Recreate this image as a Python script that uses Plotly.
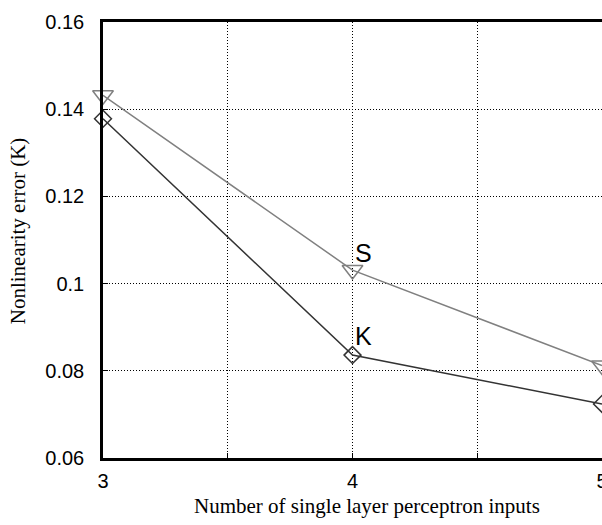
import plotly.graph_objects as go

x_inputs = [3, 4, 5]
s_error = [0.1432, 0.1031, 0.0812]
k_error = [0.1378, 0.0836, 0.0724]
y_ticks = [0.06, 0.08, 0.10, 0.12, 0.14, 0.16]
y_tick_text = ["0.06", "0.08", "0.1", "0.12", "0.14", "0.16"]
x_ticks = [3, 3.5, 4, 4.5, 5]
x_tick_text = ["3", "", "4", "", "5"]

fig = go.Figure()
fig.add_trace(go.Scatter(
    x=x_inputs, y=s_error, mode="lines+markers", name="S",
    line=dict(color="#808080", width=1.5),
    marker=dict(symbol="triangle-down-open", size=18, color="#808080", line=dict(width=1.5)),
    cliponaxis=False, showlegend=False))
fig.add_trace(go.Scatter(
    x=x_inputs, y=k_error, mode="lines+markers", name="K",
    line=dict(color="#333333", width=1.5),
    marker=dict(symbol="diamond-open", size=13, color="#333333", line=dict(width=1.5)),
    cliponaxis=False, showlegend=False))

fig.add_annotation(x=x_inputs[1], y=s_error[1], text="S", showarrow=False,
                   xanchor="left", yanchor="bottom", xshift=0, yshift=1,
                   font=dict(family="Arial, Liberation Sans", size=25, color="black"))
fig.add_annotation(x=x_inputs[1], y=k_error[1], text="K", showarrow=False,
                   xanchor="left", yanchor="bottom", xshift=0, yshift=3,
                   font=dict(family="Arial, Liberation Sans", size=25, color="black"))

title_font = dict(family="Times New Roman, Liberation Serif", size=21, color="black")
fig.add_annotation(xref="paper", yref="paper", x=0.529, y=0, yshift=-48,
                   xanchor="center", yanchor="middle", showarrow=False,
                   text="Number of single layer perceptron inputs", font=title_font)
fig.add_annotation(xref="paper", yref="paper", x=0, xshift=-85, y=0.52,
                   xanchor="center", yanchor="middle", showarrow=False, textangle=-90,
                   text="Nonlinearity error (K)", font=title_font)

axis_common = dict(showline=True, linecolor="black", linewidth=2.5, automargin=False,
                   showgrid=True, gridcolor="black", gridwidth=1, griddash="1px,2px",
                   zeroline=False, ticks="inside", ticklen=5, tickcolor="black",
                   tickfont=dict(family="Arial, Liberation Sans", size=20, color="black"),
                   ticklabeloverflow="allow")
fig.update_xaxes(range=[3, 5], tickmode="array", tickvals=x_ticks, ticktext=x_tick_text,
                 mirror=True, ticklabelstandoff=3, **axis_common)
fig.update_yaxes(range=[0.06, 0.16], tickmode="array", tickvals=y_ticks, ticktext=y_tick_text,
                 mirror=False, ticklabelstandoff=12, **axis_common)
fig.update_layout(width=602, height=525, margin=dict(l=103, r=0, t=22, b=67),
                  plot_bgcolor="white", paper_bgcolor="white")
fig.write_html("out.html")
